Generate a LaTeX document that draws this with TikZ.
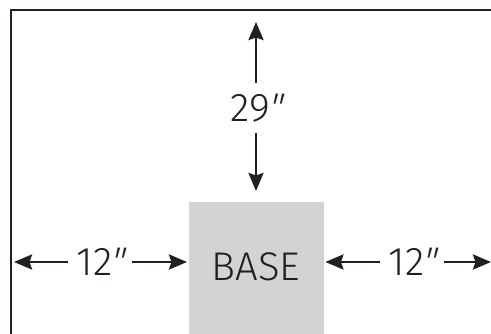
\documentclass[tikz,border=0pt]{standalone}
\usepackage{fontspec}
\setmainfont{Fira Sans Light}
\newfontfamily\primefont[FakeSlant=0.25]{Fira Sans Light}
\newcommand{\inch}{{\kern-3.5pt\primefont"}}
\usetikzlibrary{arrows.meta}
\definecolor{ink}{HTML}{231F20}
\definecolor{basegray}{HTML}{D1D3D4}

\begin{document}
\begin{tikzpicture}[x=1pt, y=-1pt,
    wall/.style = {draw=ink, line width=2.5pt},
    dim/.style = {draw=ink, line width=2.7pt, -{Stealth[length=18pt, width=15pt, inset=2.5pt]}},
    lbl/.style = {font=\fontsize{40}{42}\selectfont, text=ink, inner xsep=8pt, inner ysep=11pt,
                  text height=28pt, text depth=0pt},
    basebox/.style = {fill=basegray, minimum width=135pt, minimum height=140pt}]
  \useasboundingbox (0,0) rectangle (491,334);
  \draw[wall] (11,340) -- (11,10) -- (495,10);
  \node[basebox, anchor=north west] (base) at (189,202) {};
  \node[text=ink, font=\fontsize{40}{42}\selectfont] (basetext) at (256,267) {BASE};
  \node[lbl] (t29) at (256,108) {29\inch};
  \node[lbl] (l12) at (100,262) {12\inch};
  \node[lbl] (r12) at (412,262) {12\inch};
  \coordinate (ceil) at (256,22);
  \coordinate (basetop) at (256,191);
  \coordinate (leftwall) at (14,262);
  \coordinate (rightend) at (491,262);
  \draw[dim] (t29) -- (ceil);
  \draw[dim] (t29) -- (basetop);
  \draw[dim] (l12) -- (leftwall);
  \draw[dim, shorten >=2pt] (l12) -- (l12 -| base.west);
  \draw[dim, shorten >=1pt] (r12) -- (r12 -| base.east);
  \draw[dim] (r12) -- (rightend);
\end{tikzpicture}
\end{document}
